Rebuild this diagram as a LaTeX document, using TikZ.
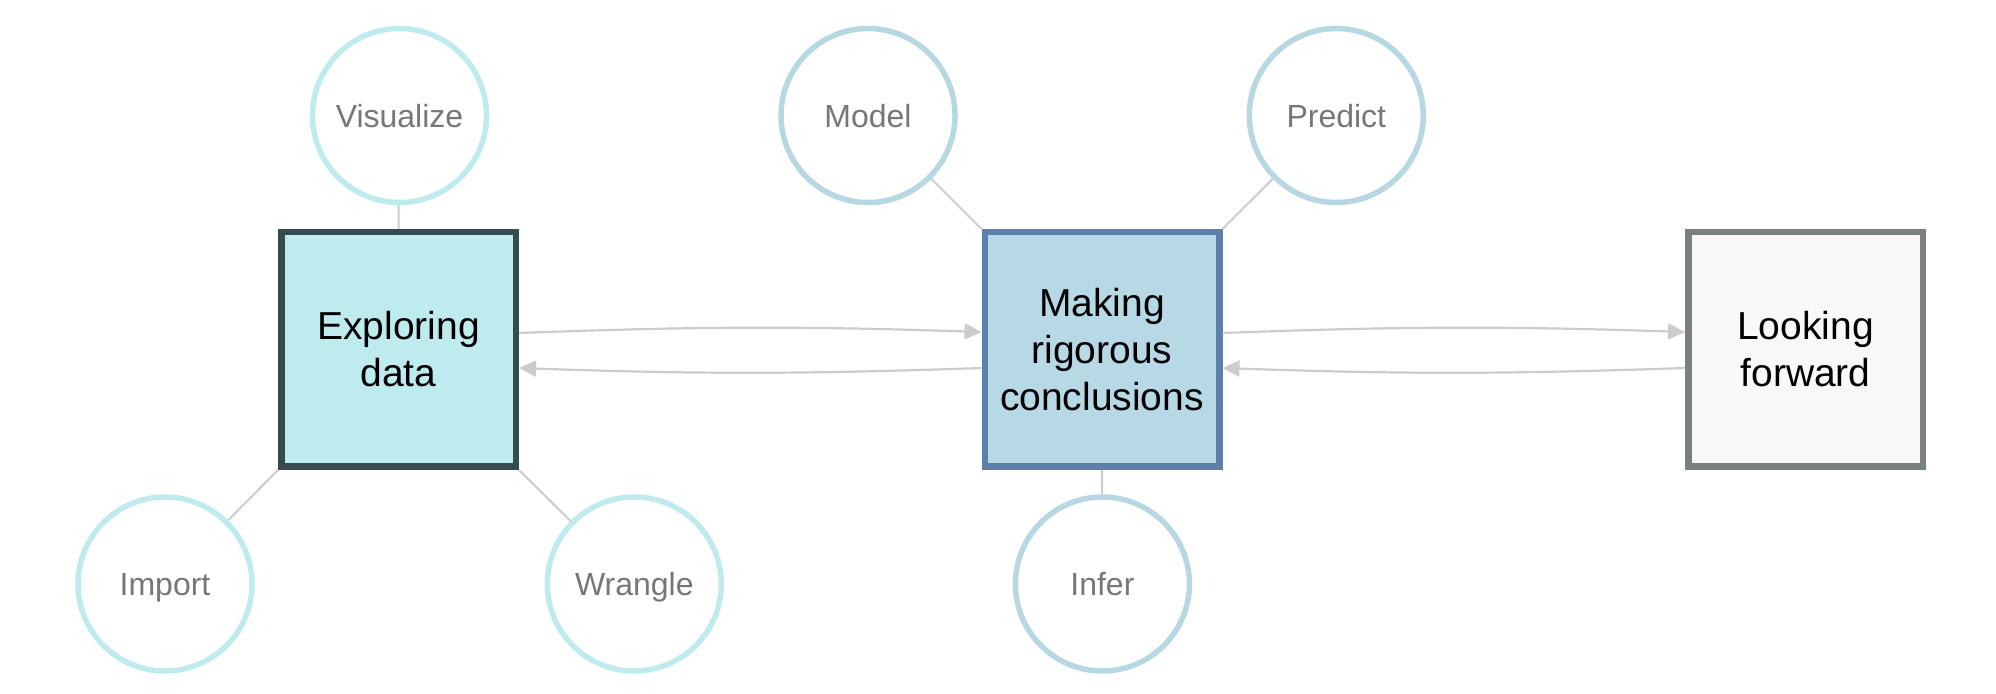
\documentclass[tikz,border=0pt]{standalone}
\usepackage{fontspec}
\setmainfont{Liberation Sans}
\usetikzlibrary{arrows.meta,calc}
\definecolor{exfill}{HTML}{BDEBEE}
\definecolor{exdraw}{HTML}{354B4D}
\definecolor{mkfill}{HTML}{B7D8E5}
\definecolor{mkdraw}{HTML}{5A80AB}
\definecolor{lkfill}{HTML}{F8F8F8}
\definecolor{lkdraw}{HTML}{798080}
\definecolor{cyanring}{HTML}{C0EBEE}
\definecolor{bluering}{HTML}{B7D7E3}
\definecolor{circtext}{HTML}{777777}
\definecolor{conn}{HTML}{CCCCCC}
\begin{document}
\begin{tikzpicture}[x=0.5pt,y=-0.5pt,
  bigbox/.style={rectangle,minimum size=117.25pt,line width=3.25pt,inner sep=0pt,
     align=center,font=\fontsize{19.5}{23.5}\selectfont,text=black},
  ring/.style={circle,minimum size=87pt,line width=2.75pt,inner sep=0pt,fill=white,
     font=\fontsize{16}{19}\selectfont,text=circtext,text height=15pt,text depth=3.4pt},
  link/.style={draw=conn,line width=1pt},
  flow/.style={draw=conn,line width=1.1pt,-{Triangle[length=8.5pt,width=8pt]}}]
\useasboundingbox (0,0) rectangle (1996,694);
% boxes
\node[bigbox,fill=exfill,draw=exdraw] (ex) at (398.5,349.5) {Exploring\\data};
\node[bigbox,fill=mkfill,draw=mkdraw] (mk) at (1102,349.5) {Making\\rigorous\\conclusions};
\node[bigbox,fill=lkfill,draw=lkdraw] (lk) at (1805.5,349.5) {Looking\\forward};
% circles
\node[ring,draw=cyanring] (vis) at (399.5,115.5) {Visualize};
\node[ring,draw=cyanring] (imp) at (165,584) {Import};
\node[ring,draw=cyanring] (wra) at (634.3,584) {Wrangle};
\node[ring,draw=bluering] (mod) at (868,115.5) {Model};
\node[ring,draw=bluering] (pre) at (1336.3,115.5) {Predict};
\node[ring,draw=bluering] (inf) at (1102.4,584) {Infer};
% spokes
\draw[link] (vis) -- (ex.north);
\draw[link] (imp) -- (ex.south west);
\draw[link] (wra) -- (ex.south east);
\draw[link] (mod) -- (mk.north west);
\draw[link] (pre) -- (mk.north east);
\draw[link] (inf) -- (mk.south);
% flows
\coordinate (exU) at ($(ex.east)+(0,-16.5)$);
\coordinate (exD) at ($(ex.east)+(0,18.5)$);
\coordinate (mkLU) at ($(mk.west)+(0,-17.5)$);
\coordinate (mkLD) at ($(mk.west)+(0,18.5)$);
\coordinate (mkRU) at ($(mk.east)+(0,-16.5)$);
\coordinate (mkRD) at ($(mk.east)+(0,18.5)$);
\coordinate (lkU) at ($(lk.west)+(0,-17.5)$);
\coordinate (lkD) at ($(lk.west)+(0,18.5)$);
\draw[flow] (exU) to[bend left=2] (mkLU);
\draw[flow] (mkLD) to[bend left=2] (exD);
\draw[flow] (mkRU) to[bend left=2] (lkU);
\draw[flow] (lkD) to[bend left=2] (mkRD);
\end{tikzpicture}
\end{document}
